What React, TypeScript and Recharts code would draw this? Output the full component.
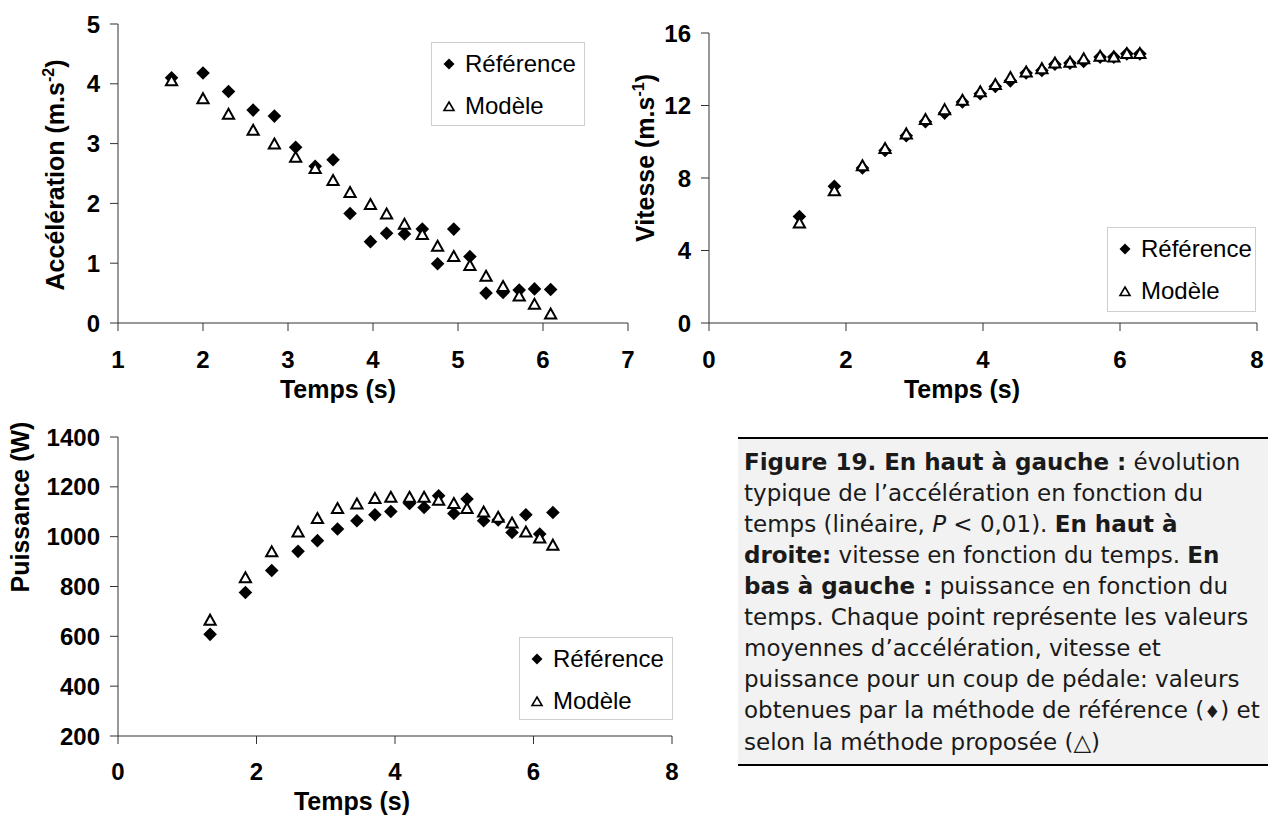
import React from 'react';
import { ScatterChart, Scatter, XAxis, YAxis, Legend } from 'recharts';

// ---- Top-left: acceleration ----
const accTime = [1.63, 2.0, 2.3, 2.59, 2.84, 3.09, 3.32, 3.53, 3.73, 3.97, 4.16, 4.37, 4.58, 4.76, 4.95, 5.14, 5.33, 5.53, 5.72, 5.9, 6.09];
const accRef = [4.1, 4.18, 3.87, 3.56, 3.46, 2.94, 2.62, 2.73, 1.83, 1.36, 1.5, 1.49, 1.57, 0.99, 1.57, 1.11, 0.5, 0.51, 0.55, 0.57, 0.56];
const accMod = [4.06, 3.76, 3.5, 3.23, 3.0, 2.78, 2.59, 2.39, 2.19, 1.99, 1.83, 1.66, 1.49, 1.29, 1.12, 0.97, 0.79, 0.62, 0.46, 0.32, 0.16];
const accXTicks = [1, 2, 3, 4, 5, 6, 7];
const accYTicks = [0, 1, 2, 3, 4, 5];

// ---- Top-right: velocity ----
const velTime = [1.32, 1.83, 2.24, 2.57, 2.88, 3.16, 3.44, 3.7, 3.96, 4.18, 4.4, 4.63, 4.86, 5.05, 5.27, 5.47, 5.71, 5.91, 6.1, 6.29];
const velRef = [5.88, 7.54, 8.55, 9.52, 10.33, 11.1, 11.58, 12.2, 12.65, 13.05, 13.36, 13.79, 13.93, 14.28, 14.34, 14.43, 14.67, 14.67, 14.85, 14.85];
const velMod = [5.55, 7.32, 8.7, 9.65, 10.46, 11.25, 11.8, 12.32, 12.78, 13.18, 13.57, 13.88, 14.06, 14.37, 14.41, 14.61, 14.74, 14.7, 14.89, 14.89];
const velXTicks = [0, 2, 4, 6, 8];
const velYTicks = [0, 4, 8, 12, 16];

// ---- Bottom-left: power ----
const powTime = [1.33, 1.84, 2.22, 2.6, 2.88, 3.17, 3.45, 3.71, 3.94, 4.21, 4.42, 4.63, 4.85, 5.04, 5.28, 5.49, 5.69, 5.89, 6.09, 6.28];
const powRef = [608, 776, 864, 941, 984, 1031, 1064, 1088, 1101, 1133, 1117, 1164, 1093, 1151, 1064, 1067, 1017, 1088, 1011, 1097];
const powMod = [667, 837, 941, 1021, 1075, 1115, 1133, 1155, 1160, 1160, 1160, 1148, 1135, 1115, 1101, 1080, 1057, 1021, 997, 968];
const powXTicks = [0, 2, 4, 6, 8];
const powYTicks = [200, 400, 600, 800, 1000, 1200, 1400];

const seriesNames = ['Référence', 'Modèle'];
const xTitleText = 'Temps (s)';

type Seg = { t: string; b?: boolean; i?: boolean; s?: boolean };
const captionLines: Seg[][] = [
  [{ t: 'Figure 19. En haut à gauche :', b: true }, { t: ' évolution' }],
  [{ t: 'typique de l’accélération en fonction du' }],
  [{ t: 'temps (linéaire, ' }, { t: 'P', i: true }, { t: ' < 0,01). ' }, { t: 'En haut à', b: true }],
  [{ t: 'droite:', b: true }, { t: ' vitesse en fonction du temps. ' }, { t: 'En', b: true }],
  [{ t: 'bas à gauche :', b: true }, { t: ' puissance en fonction du' }],
  [{ t: 'temps. Chaque point représente les valeurs' }],
  [{ t: 'moyennes d’accélération, vitesse et' }],
  [{ t: 'puissance pour un coup de pédale: valeurs' }],
  [{ t: 'obtenues par la méthode de référence (' }, { t: '♦', s: true }, { t: ') et' }],
  [{ t: 'selon la méthode proposée (△)' }],
];

const FONT = '"Liberation Sans", Arial, Helvetica, sans-serif';
const tickStyle = { fill: '#000', fontSize: 24, fontWeight: 700, fontFamily: FONT };
const titleStyle: React.CSSProperties = { fill: '#000', fontSize: 25, fontWeight: 700, fontFamily: FONT };
const axisStroke = { stroke: '#333', strokeWidth: 1 };

const toPts = (xs: number[], ys: number[]) => xs.map((x, i) => ({ x, y: ys[i] }));

function Diamond(props: any) {
  const { cx, cy } = props;
  if (cx == null || cy == null) return null;
  const r = 6.8;
  return <polygon points={`${cx},${cy - r} ${cx + r},${cy} ${cx},${cy + r} ${cx - r},${cy}`} fill="#000" />;
}

function Triangle(props: any) {
  const { cx, cy } = props;
  if (cx == null || cy == null) return null;
  const w = 5.6;
  const h = 5;
  return (
    <polygon
      points={`${cx},${cy - h} ${cx + w},${cy + h} ${cx - w},${cy + h}`}
      fill="#fff"
      stroke="#000"
      strokeWidth={2}
      strokeLinejoin="miter"
    />
  );
}

function LegendMarker({ name }: { name: string }) {
  if (name === seriesNames[0]) {
    return (
      <svg width={14} height={14} style={{ display: 'block' }}>
        <polygon points="7,1.5 12.5,7 7,12.5 1.5,7" fill="#000" />
      </svg>
    );
  }
  return (
    <svg width={14} height={14} style={{ display: 'block' }}>
      <polygon points="7,3 12,11.5 2,11.5" fill="#fff" stroke="#000" strokeWidth={1.6} />
    </svg>
  );
}

function makeLegend(w: number, h: number) {
  return (props: any) => {
    const payload = ((props && props.payload) || [])
      .slice()
      .sort((a: any, b: any) => seriesNames.indexOf(a.value) - seriesNames.indexOf(b.value));
    return (
      <div
        style={{
          width: w,
          height: h,
          boxSizing: 'border-box',
          border: '1px solid #cfcfcf',
          background: '#fff',
          position: 'relative',
          fontFamily: FONT,
          fontSize: 24,
          color: '#000',
        }}
      >
        {payload.map((entry: any, i: number) => (
          <div
            key={i}
            style={{
              position: 'absolute',
              left: 10,
              top: i === 0 ? 6 : 48,
              height: 30,
              display: 'flex',
              alignItems: 'center',
              whiteSpace: 'nowrap',
            }}
          >
            <LegendMarker name={entry.value} />
            <span style={{ marginLeft: 9, lineHeight: '30px' }}>{entry.value}</span>
          </div>
        ))}
      </div>
    );
  };
}

function xTitle(cx: number, y: number) {
  return () => (
    <text x={cx} y={y} textAnchor="middle" style={titleStyle}>
      {xTitleText}
    </text>
  );
}

function yTitle(x: number, y: number, main: string, sup?: string, tail?: string) {
  return () => (
    <text x={x} y={y} textAnchor="middle" transform={`rotate(-90 ${x} ${y})`} style={titleStyle}>
      <tspan>{main}</tspan>
      {sup ? (
        <tspan dy={-10} fontSize={16}>
          {sup}
        </tspan>
      ) : null}
      {tail ? <tspan dy={sup ? 10 : 0}>{tail}</tspan> : null}
    </text>
  );
}

export default function App() {
  return (
    <div style={{ position: 'absolute', left: 0, top: 0, width: 1274, height: 816, background: '#fff', overflow: 'hidden' }}>
      {/* Top-left */}
      <div style={{ position: 'absolute', left: 0, top: 0 }}>
        <ScatterChart width={640} height={412} margin={{ top: 24, right: 12, bottom: 29, left: 58 }}>
          <XAxis
            type="number"
            dataKey="x"
            domain={[1, 7]}
            ticks={accXTicks}
            height={60}
            tickSize={8}
            tickMargin={20}
            axisLine={axisStroke}
            tickLine={axisStroke}
            tick={tickStyle}
            allowDataOverflow
            label={xTitle(338, 398)}
          />
          <YAxis
            type="number"
            dataKey="y"
            domain={[0, 5]}
            ticks={accYTicks}
            width={60}
            tickSize={8}
            tickMargin={10}
            axisLine={axisStroke}
            tickLine={axisStroke}
            tick={tickStyle}
            allowDataOverflow
            label={yTitle(64, 175, 'Accélération (m.s', '-2', ')')}
          />
          <Legend
            layout="vertical"
            align="center"
            verticalAlign="middle"
            wrapperStyle={{ left: 431, top: 42, width: 154, height: 84 }}
            content={makeLegend(154, 84)}
          />
          <Scatter name={seriesNames[0]} data={toPts(accTime, accRef)} shape={Diamond} fill="#000" isAnimationActive={false} />
          <Scatter name={seriesNames[1]} data={toPts(accTime, accMod)} shape={Triangle} fill="#fff" isAnimationActive={false} />
        </ScatterChart>
      </div>

      {/* Top-right */}
      <div style={{ position: 'absolute', left: 600, top: 0 }}>
        <ScatterChart width={674} height={412} margin={{ top: 33, right: 17, bottom: 29, left: 49 }}>
          <XAxis
            type="number"
            dataKey="x"
            domain={[0, 8]}
            ticks={velXTicks}
            height={60}
            tickSize={8}
            tickMargin={20}
            axisLine={axisStroke}
            tickLine={axisStroke}
            tick={tickStyle}
            allowDataOverflow
            label={xTitle(362, 398)}
          />
          <YAxis
            type="number"
            dataKey="y"
            domain={[0, 16]}
            ticks={velYTicks}
            width={60}
            tickSize={8}
            tickMargin={10}
            axisLine={axisStroke}
            tickLine={axisStroke}
            tick={tickStyle}
            allowDataOverflow
            label={yTitle(54, 158, 'Vitesse (m.s', '-1', ')')}
          />
          <Legend
            layout="vertical"
            align="center"
            verticalAlign="middle"
            wrapperStyle={{ left: 507, top: 227, width: 149, height: 85 }}
            content={makeLegend(149, 85)}
          />
          <Scatter name={seriesNames[0]} data={toPts(velTime, velRef)} shape={Diamond} fill="#000" isAnimationActive={false} />
          <Scatter name={seriesNames[1]} data={toPts(velTime, velMod)} shape={Triangle} fill="#fff" isAnimationActive={false} />
        </ScatterChart>
      </div>

      {/* Bottom-left */}
      <div style={{ position: 'absolute', left: 0, top: 400 }}>
        <ScatterChart width={700} height={416} margin={{ top: 37, right: 28, bottom: 20, left: 58 }}>
          <XAxis
            type="number"
            dataKey="x"
            domain={[0, 8]}
            ticks={powXTicks}
            height={60}
            tickSize={8}
            tickMargin={19}
            axisLine={axisStroke}
            tickLine={axisStroke}
            tick={tickStyle}
            allowDataOverflow
            label={xTitle(352, 410)}
          />
          <YAxis
            type="number"
            dataKey="y"
            domain={[200, 1400]}
            ticks={powYTicks}
            width={60}
            tickSize={8}
            tickMargin={10}
            axisLine={axisStroke}
            tickLine={axisStroke}
            tick={tickStyle}
            allowDataOverflow
            label={yTitle(29, 107, 'Puissance (W)')}
          />
          <Legend
            layout="vertical"
            align="center"
            verticalAlign="middle"
            wrapperStyle={{ left: 519, top: 237, width: 154, height: 83 }}
            content={makeLegend(154, 83)}
          />
          <Scatter name={seriesNames[0]} data={toPts(powTime, powRef)} shape={Diamond} fill="#000" isAnimationActive={false} />
          <Scatter name={seriesNames[1]} data={toPts(powTime, powMod)} shape={Triangle} fill="#fff" isAnimationActive={false} />
        </ScatterChart>
      </div>

      {/* Caption */}
      <div
        style={{
          position: 'absolute',
          left: 738,
          top: 437,
          width: 530,
          boxSizing: 'border-box',
          background: '#f2f2f2',
          borderTop: '2px solid #000',
          borderBottom: '2px solid #000',
          padding: '8px 0 6px 6px',
          fontFamily: '"DejaVu Sans", Verdana, sans-serif',
          fontSize: 23,
          lineHeight: '31px',
          color: '#1a1a1a',
        }}
      >
        {captionLines.map((line, li) => (
          <div key={li} style={{ whiteSpace: 'nowrap' }}>
            {line.map((s, si) => (
              <span
                key={si}
                style={{
                  fontWeight: s.b ? 700 : 400,
                  fontStyle: s.i ? 'italic' : 'normal',
                  fontSize: s.s ? 18 : undefined,
                }}
              >
                {s.t}
              </span>
            ))}
          </div>
        ))}
      </div>
    </div>
  );
}
